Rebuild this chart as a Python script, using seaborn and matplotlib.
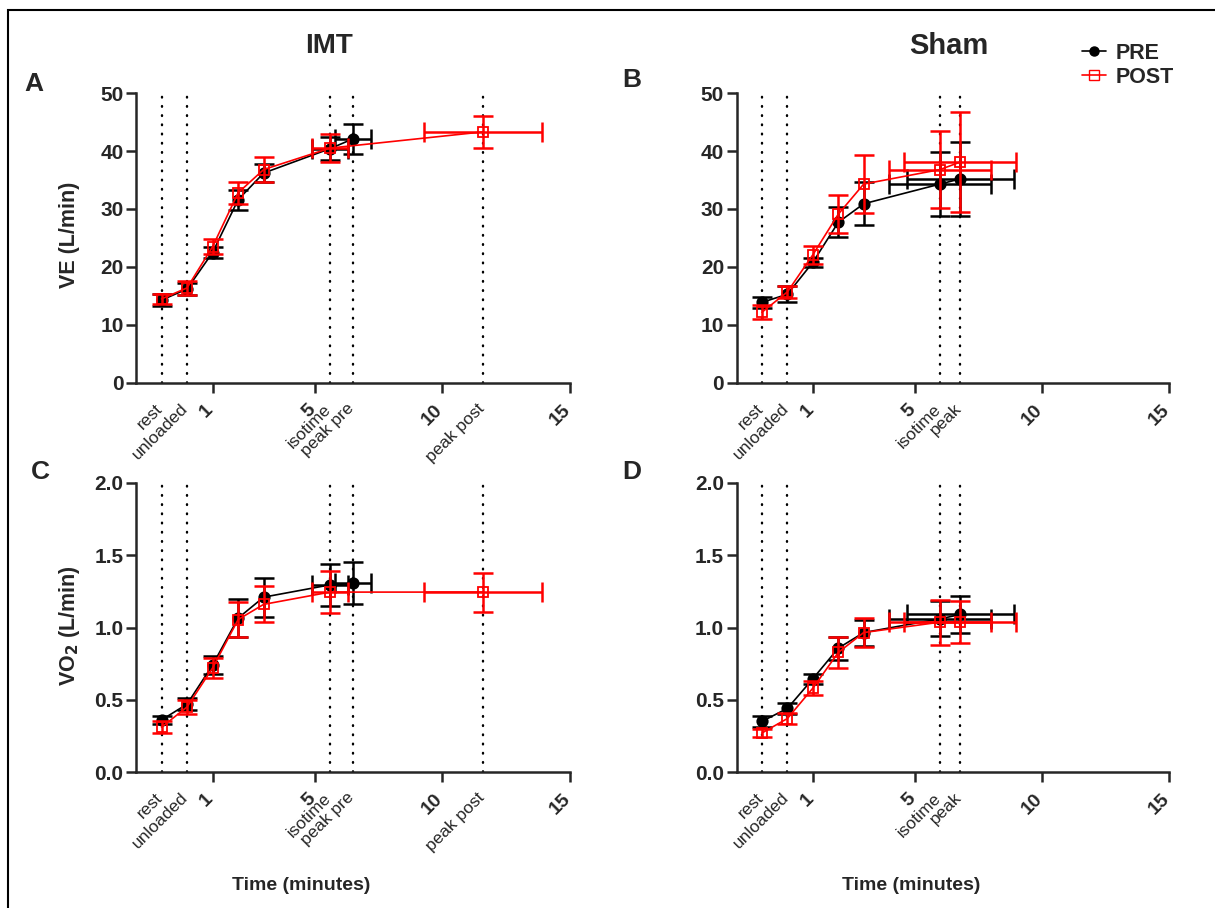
import matplotlib
matplotlib.use("Agg")
import matplotlib.pyplot as plt
import matplotlib.transforms as mtransforms
import seaborn as sns
from matplotlib.patches import Rectangle
from matplotlib.lines import Line2D

# ---------------- data ----------------
# time points (minutes): rest=-1, unloaded=0, 1, 2, 3, isotime, peak
x_imt_pre = [-1, 0, 1, 2, 3, 5.6, 6.5]
x_imt_post = [-1, 0, 1, 2, 3, 5.6, 11.6]
xerr_imt_pre = [0, 0, 0, 0, 0, 0.7, 0.72]
xerr_imt_post = [0, 0, 0, 0, 0, 0.7, 2.3]

x_sham_pre = [-1, 0, 1, 2, 3, 6.0, 6.8]
x_sham_post = [-1, 0, 1, 2, 3, 6.0, 6.8]
xerr_sham_pre = [0, 0, 0, 0, 0, 2.0, 2.1]
xerr_sham_post = [0, 0, 0, 0, 0, 2.0, 2.2]

# VE (L/min)
ve_imt_pre = [14.3, 16.2, 22.5, 31.6, 36.2, 40.4, 42.1]
ve_imt_pre_err = [1.1, 1.0, 0.9, 1.7, 1.6, 2.0, 2.6]
ve_imt_post = [14.5, 16.4, 23.5, 32.8, 36.8, 40.5, 43.3]
ve_imt_post_err = [0.9, 1.2, 1.3, 1.9, 2.1, 2.4, 2.7]

ve_sham_pre = [13.9, 15.3, 20.8, 27.7, 30.9, 34.3, 35.2]
ve_sham_pre_err = [1.0, 1.4, 0.8, 2.6, 3.7, 5.5, 6.4]
ve_sham_post = [12.2, 15.7, 22.1, 29.1, 34.3, 36.8, 38.1]
ve_sham_post_err = [1.2, 1.0, 1.6, 3.3, 5.0, 6.7, 8.6]

# VO2 (L/min)
vo2_imt_pre = [0.36, 0.47, 0.74, 1.065, 1.21, 1.295, 1.305]
vo2_imt_pre_err = [0.03, 0.04, 0.06, 0.13, 0.135, 0.145, 0.145]
vo2_imt_post = [0.31, 0.45, 0.72, 1.055, 1.16, 1.245, 1.245]
vo2_imt_post_err = [0.04, 0.05, 0.07, 0.12, 0.125, 0.145, 0.135]

vo2_sham_pre = [0.35, 0.44, 0.645, 0.857, 0.965, 1.06, 1.09]
vo2_sham_pre_err = [0.04, 0.04, 0.035, 0.08, 0.09, 0.12, 0.13]
vo2_sham_post = [0.27, 0.37, 0.58, 0.827, 0.965, 1.037, 1.037]
vo2_sham_post_err = [0.03, 0.04, 0.05, 0.105, 0.1, 0.155, 0.147]

num_ticks = [1, 5, 10, 15]
num_labels = ["1", "5", "10", "15"]
imt_marks = [-1, 0, 5.6, 6.5, 11.6]
imt_mark_labels = ["rest", "unloaded", "isotime", "peak pre", "peak post"]
sham_marks = [-1, 0, 6.0, 6.8]
sham_mark_labels = ["rest", "unloaded", "isotime", "peak"]

ve_ticks = [0, 10, 20, 30, 40, 50]
ve_tick_labels = ["0", "10", "20", "30", "40", "50"]
vo2_ticks = [0.0, 0.5, 1.0, 1.5, 2.0]
vo2_tick_labels = ["0.0", "0.5", "1.0", "1.5", "2.0"]

# ---------------- style ----------------
sns.set_style("ticks")
plt.rcParams['font.family'] = ['Liberation Sans', 'DejaVu Sans']

W, H = 1215, 908
fig = plt.figure(figsize=(W / 100, H / 100), dpi=100)


def add_ax(l, t, r, b):
    return fig.add_axes([l / W, 1 - b / H, (r - l) / W, (b - t) / H])


def draw_series(ax, x, y, ye, xe, col, mk, mfc, z):
    ax.errorbar(x, y, yerr=ye, fmt='none', ecolor=col, elinewidth=1.8,
                capsize=7, capthick=1.8, zorder=z)
    idx = [i for i, v in enumerate(xe) if v > 0]
    if idx:
        ax.errorbar([x[i] for i in idx], [y[i] for i in idx],
                    xerr=[xe[i] for i in idx], fmt='none', ecolor=col,
                    elinewidth=1.8, capsize=7, capthick=1.8, zorder=z)
    sns.lineplot(x=x, y=y, ax=ax, color=col, marker=mk, markersize=7.5,
                 markerfacecolor=mfc, markeredgecolor=col, markeredgewidth=1.3,
                 lw=1.2, sort=False, estimator=None, zorder=z + 0.5)


def panel(ax, pre, post, ylim, yticks, ylabels, marks, mark_labels):
    ax.set_xlim(-2, 15)
    ax.set_ylim(*ylim)
    for v in marks:
        ax.axvline(v, color='black', lw=1.7, ls=(0, (0.3, 3.6)),
                   dash_capstyle='round', zorder=1)
    draw_series(ax, *pre, 'black', 'o', 'black', 3)
    draw_series(ax, *post, 'red', 's', 'none', 4)
    ax.set_xticks(num_ticks)
    ax.set_xticklabels(num_labels, rotation=45, ha='right', fontweight='bold', fontsize=14)
    ax.set_xticks(marks, minor=True)
    ax.set_xticklabels(mark_labels, minor=True, rotation=45, ha='right', fontsize=12.5)
    ax.set_yticks(yticks)
    ax.set_yticklabels(ylabels, fontweight='bold', fontsize=15)
    ax.tick_params(axis='x', which='major', length=7, width=1.8, pad=6)
    ax.tick_params(axis='x', which='minor', length=0, pad=13)
    ax.tick_params(axis='y', which='major', length=7, width=1.8, pad=2)
    ax.set_xlabel("")
    ax.set_ylabel("")
    sns.despine(ax=ax)
    for s in ['left', 'bottom']:
        ax.spines[s].set_linewidth(1.8)
    shift = mtransforms.ScaledTranslation(4 / 100, 0, fig.dpi_scale_trans)
    for lab in ax.get_xticklabels(which='both'):
        lab.set_transform(lab.get_transform() + shift)


axA = add_ax(136, 93, 570, 383)
axB = add_ax(736.5, 93, 1169, 383)
axC = add_ax(136, 483, 570, 772)
axD = add_ax(736.5, 483, 1169, 772)

panel(axA, (x_imt_pre, ve_imt_pre, ve_imt_pre_err, xerr_imt_pre),
      (x_imt_post, ve_imt_post, ve_imt_post_err, xerr_imt_post),
      (0, 50), ve_ticks, ve_tick_labels, imt_marks, imt_mark_labels)
panel(axB, (x_sham_pre, ve_sham_pre, ve_sham_pre_err, xerr_sham_pre),
      (x_sham_post, ve_sham_post, ve_sham_post_err, xerr_sham_post),
      (0, 50), ve_ticks, ve_tick_labels, sham_marks, sham_mark_labels)
panel(axC, (x_imt_pre, vo2_imt_pre, vo2_imt_pre_err, xerr_imt_pre),
      (x_imt_post, vo2_imt_post, vo2_imt_post_err, xerr_imt_post),
      (0, 2.0), vo2_ticks, vo2_tick_labels, imt_marks, imt_mark_labels)
panel(axD, (x_sham_pre, vo2_sham_pre, vo2_sham_pre_err, xerr_sham_pre),
      (x_sham_post, vo2_sham_post, vo2_sham_post_err, xerr_sham_post),
      (0, 2.0), vo2_ticks, vo2_tick_labels, sham_marks, sham_mark_labels)


def ftext(x, y, s, **kw):
    fig.text(x / W, 1 - y / H, s, ha='center', va='center', **kw)


ftext(329, 46, "IMT", fontsize=20, fontweight='bold')
ftext(949, 46, "Sham", fontsize=21, fontweight='bold')
ftext(34, 84, "A", fontsize=19, fontweight='bold')
ftext(632, 80, "B", fontsize=19, fontweight='bold')
ftext(40, 472, "C", fontsize=19, fontweight='bold')
ftext(632, 472, "D", fontsize=19, fontweight='bold')
ftext(70, 235, "VE (L/min)", fontsize=15.5, fontweight='bold', rotation=90)
ftext(70, 626, "VO$_\\mathbf{2}$ (L/min)", fontsize=15.5, fontweight='bold', rotation=90)
ftext(301, 886, "Time (minutes)", fontsize=14, fontweight='bold')
ftext(911, 886, "Time (minutes)", fontsize=14, fontweight='bold')

handles = [Line2D([], [], color='black', lw=1.2, marker='o', markersize=6.5,
                  markerfacecolor='black'),
           Line2D([], [], color='red', lw=1.2, marker='s', markersize=6.5,
                  markerfacecolor='none', markeredgecolor='red')]
fig.legend(handles, ["PRE", "POST"], loc='upper left',
           bbox_to_anchor=(1082 / W, 1 - 43 / H), frameon=False,
           prop={'weight': 'bold', 'size': 15.5}, handlelength=1.1,
           handletextpad=0.45, labelspacing=0.12, borderaxespad=0, borderpad=0)

# frame: only top and left edges fall inside the picture
fig.add_artist(Rectangle((8 / W, -20 / H), (1250 - 8) / W, (898 + 20) / H,
                         transform=fig.transFigure, fill=False, lw=1.5,
                         edgecolor='black', clip_on=False))

fig.savefig("out.png", dpi=100)
